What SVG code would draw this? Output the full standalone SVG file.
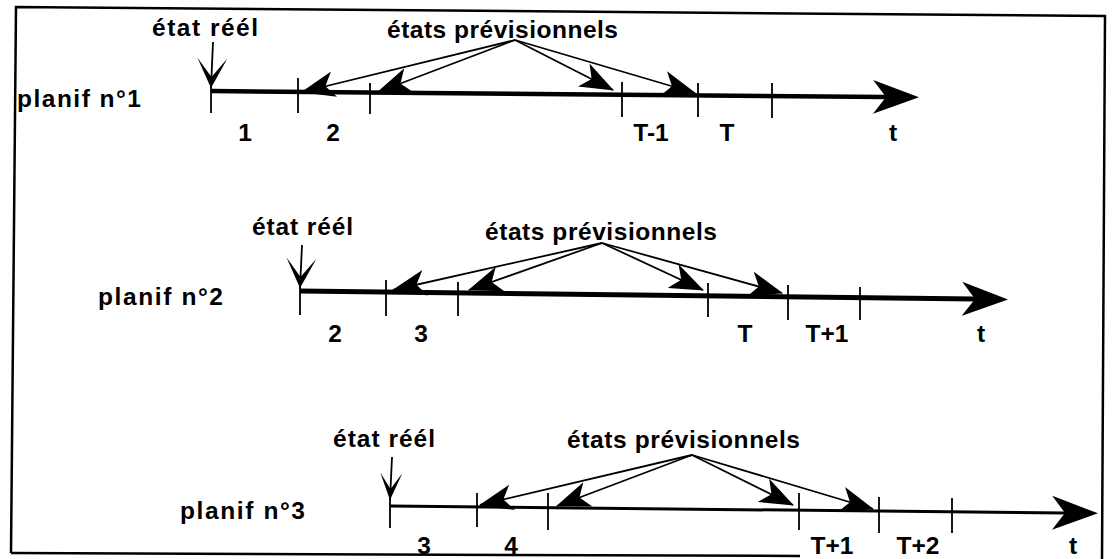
<svg xmlns="http://www.w3.org/2000/svg" width="1113" height="559" viewBox="0 0 1113 559">
<style>
text{font-family:"Liberation Sans",Arial,sans-serif;font-weight:bold;font-size:24.5px;fill:#000}
.lab{text-anchor:middle}
.tick{stroke:#000;stroke-width:1.8;fill:none}
.fan{stroke:#000;stroke-width:1.8;fill:none;marker-end:url(#fan)}
.axis{stroke:#000;fill:none;marker-end:url(#big)}
.drop{stroke:#000;stroke-width:1.8;fill:none}
.frame{stroke:#000;stroke-width:2.5;fill:none}
</style>
<defs>
<marker id="fan" markerUnits="userSpaceOnUse" markerWidth="34" markerHeight="26" viewBox="0 0 34 26" refX="33" refY="13" orient="auto"><path d="M34,13 L0,0 L9,13 L0,26 Z" fill="#000"/></marker>
<marker id="big" markerUnits="userSpaceOnUse" markerWidth="46" markerHeight="36" viewBox="0 0 46 36" refX="13" refY="18" orient="auto"><path d="M46,18 L0,1 L13,18 L0,35 Z" fill="#000"/></marker>
<marker id="down" markerUnits="userSpaceOnUse" markerWidth="30" markerHeight="30" viewBox="0 0 30 30" refX="30" refY="15" orient="auto"><path d="M30,15 L0,0 L19,15 L0,30 Z" fill="#000"/></marker>
<marker id="downSmall" markerUnits="userSpaceOnUse" markerWidth="27" markerHeight="22" viewBox="0 0 27 22" refX="27" refY="11" orient="auto"><path d="M27,11 L0,0 L16,11 L0,22 Z" fill="#000"/></marker>
</defs>
<rect width="1113" height="559" fill="#fff"/>
<g id="frame">
<path class="frame" d="M11,553 L16,7 L1105,16 L1102,559"/>
<path class="frame" d="M11,553 L800,556"/>
</g>
<g id="row1">
<text x="152" y="36" textLength="106" lengthAdjust="spacing">état réél</text>
<text x="387" y="38" textLength="231" lengthAdjust="spacing">états prévisionnels</text>
<text x="17" y="107" textLength="124" lengthAdjust="spacing">planif n°1</text>
<text class="lab" x="245" y="141">1</text>
<text class="lab" x="333" y="141">2</text>
<text class="lab" x="651" y="141">T-1</text>
<text class="lab" x="727" y="141">T</text>
<text class="lab" x="893" y="141">t</text>
</g>
<g id="row2">
<text x="252" y="235" textLength="101" lengthAdjust="spacing">état réél</text>
<text x="485" y="240" textLength="232" lengthAdjust="spacing">états prévisionnels</text>
<text x="98" y="305" textLength="125" lengthAdjust="spacing">planif n°2</text>
<text class="lab" x="335" y="342">2</text>
<text class="lab" x="421" y="342">3</text>
<text class="lab" x="745" y="342">T</text>
<text class="lab" x="827" y="342">T+1</text>
<text class="lab" x="981" y="342">t</text>
</g>
<g id="row3">
<text x="333" y="447" textLength="102" lengthAdjust="spacing">état réél</text>
<text x="567" y="448" textLength="233" lengthAdjust="spacing">états prévisionnels</text>
<text x="180" y="519" textLength="125" lengthAdjust="spacing">planif n°3</text>
<text class="lab" x="424" y="554">3</text>
<text class="lab" x="511" y="554">4</text>
<text class="lab" x="832" y="554">T+1</text>
<text class="lab" x="918" y="554">T+2</text>
<text class="lab" x="1073" y="554">t</text>
</g>
<g id="connectors">
<line class="axis" x1="211" y1="91" x2="886" y2="97" stroke-width="4.5"/>
<path class="tick" d="M211,85 V113 M298,78 V113 M370,83 V114 M622,82 V117 M698,83 V117 M772,83 V118"/>
<line class="drop" x1="213" y1="42" x2="211" y2="88" marker-end="url(#down)"/>
<line class="fan" x1="515" y1="40" x2="302" y2="92"/>
<line class="fan" x1="515" y1="40" x2="378" y2="92"/>
<line class="fan" x1="515" y1="40" x2="613" y2="90"/>
<line class="fan" x1="515" y1="40" x2="695" y2="93"/>
<line class="axis" x1="300" y1="291" x2="975" y2="299" stroke-width="5"/>
<path class="tick" d="M300,285 V315 M386,280 V316 M458,282 V316 M708,283 V317 M788,285 V320 M860,287 V320"/>
<line class="drop" x1="302" y1="245" x2="300" y2="288" marker-end="url(#down)"/>
<line class="fan" x1="602" y1="243" x2="393" y2="290"/>
<line class="fan" x1="602" y1="243" x2="469" y2="290"/>
<line class="fan" x1="602" y1="243" x2="703" y2="290"/>
<line class="fan" x1="602" y1="243" x2="782" y2="293"/>
<line class="axis" x1="390" y1="506" x2="1065" y2="513" stroke-width="3"/>
<path class="tick" d="M390,497 V528 M477,493 V527 M548,493 V530 M799,493 V530 M879,497 V533 M952,498 V533"/>
<line class="drop" x1="392" y1="457" x2="390" y2="500" marker-end="url(#downSmall)"/>
<line class="fan" x1="692" y1="455" x2="480" y2="505"/>
<line class="fan" x1="692" y1="455" x2="557" y2="506"/>
<line class="fan" x1="692" y1="455" x2="793" y2="505"/>
<line class="fan" x1="692" y1="455" x2="873" y2="509"/>
</g>
</svg>
